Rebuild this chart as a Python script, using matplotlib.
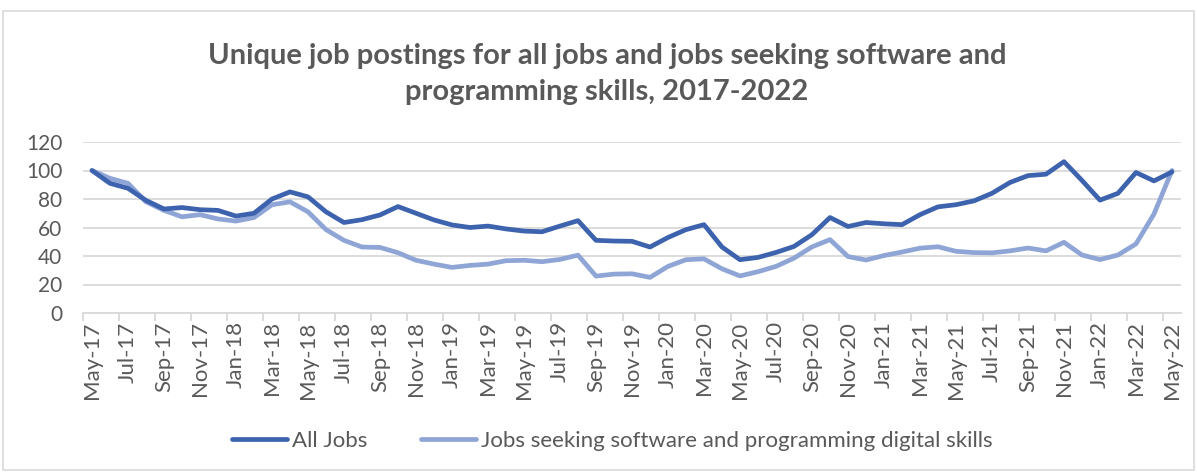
import numpy as np
import matplotlib
matplotlib.use("Agg")
import matplotlib.pyplot as plt
from matplotlib.patches import Rectangle

month_names = ["Jan", "Feb", "Mar", "Apr", "May", "Jun",
               "Jul", "Aug", "Sep", "Oct", "Nov", "Dec"]

# Monthly categories, May 2017 .. May 2022
categories = []
for k in range(61):
    m = (4 + k) % 12
    y = 17 + (4 + k) // 12
    categories.append(f"{month_names[m]}-{y:02d}")

all_jobs = [100, 91, 87.5, 79, 73, 74, 72.5, 72, 68, 70,
            80, 85, 81.5, 71, 63.5, 65.5, 68.8, 74.7, 70, 65.3,
            61.8, 60, 61, 59, 57.5, 57, 61, 64.8, 51, 50.5,
            50.3, 46.3, 53, 58.5, 62, 46.3, 37.4, 39, 42.5, 46.7,
            55, 67, 60.7, 63.5, 62.6, 62, 69, 74.5, 76, 78.7,
            84, 91.6, 96.4, 97.4, 106.2, 93, 79.2, 84, 98.6, 92.7,
            99]

software_jobs = [100, 94.5, 91, 78, 72, 67.5, 69, 66, 64.5, 67,
                 76, 78, 71, 58.5, 51, 46.3, 46, 42.3, 37, 34.3,
                 32, 33.4, 34.3, 36.7, 37, 36, 37.6, 40.6, 25.9, 27.3,
                 27.5, 25, 32.7, 37.4, 38, 31, 26, 29, 32.7, 38.5,
                 46.4, 51.5, 39.6, 37.2, 40.3, 42.8, 45.5, 46.5, 43.3, 42.4,
                 42.2, 43.6, 45.6, 43.6, 49.6, 40.7, 37.5, 40.7, 48.5, 69.5,
                 100]

title_text = ("Unique job postings for all jobs and jobs seeking software and\n"
              "programming skills, 2017-2022")
series_labels = ["All Jobs",
                 "Jobs seeking software and programming digital skills"]

DARK = "#3d63ae"
LIGHT = "#8ea5d6"
TEXT = "#595959"
GRID = "#d9d9d9"
FONT = ["Lato", "DejaVu Sans"]

plt.rcParams["font.family"] = FONT

W, H = 1197, 472
fig = plt.figure(figsize=(W / 100, H / 100), dpi=100)

# light frame around the chart area
fig.patches.append(Rectangle((3 / W, 2 / H), 1191 / W, 459 / H,
                             transform=fig.transFigure, fill=False,
                             edgecolor="#d9d9d9", linewidth=1.2))

ax = fig.add_axes([83 / W, 1 - 313 / H, (1181 - 83) / W, (313 - 142) / H])

x = np.arange(len(categories))
ax.plot(x, software_jobs, color=LIGHT, lw=3.4, solid_capstyle="round",
        solid_joinstyle="round", label=series_labels[1], zorder=3)
ax.plot(x, all_jobs, color=DARK, lw=3.4, solid_capstyle="round",
        solid_joinstyle="round", label=series_labels[0], zorder=4)

ax.set_xlim(-0.5, len(categories) - 0.5)
ax.set_ylim(0, 120)
ax.set_yticks(np.arange(0, 121, 20))
ax.yaxis.grid(True, color=GRID, lw=1.3)
ax.set_axisbelow(True)
for side in ["left", "right", "top"]:
    ax.spines[side].set_visible(False)
ax.spines["bottom"].set_color(GRID)
ax.spines["bottom"].set_linewidth(1.3)
ax.tick_params(axis="y", length=0, pad=15, labelsize=15, labelcolor=TEXT)

# tick marks on category boundaries, labels on every other month
ax.set_xticks(np.arange(-0.5, len(categories), 2))
ax.set_xticklabels([])
ax.tick_params(axis="x", which="major", length=6, width=1.3, color=GRID)
ax.set_xticks(x[::2], minor=True)
ax.set_xticklabels(categories[::2], minor=True, rotation=90)
ax.tick_params(axis="x", which="minor", length=0, pad=6, labelsize=16,
               labelcolor=TEXT)

fig.text(607 / W, 1 - 74 / H, title_text, ha="center", va="center",
         fontsize=21, fontweight="bold", color=TEXT, linespacing=1.5)

handles, labels = ax.get_legend_handles_labels()
leg = fig.legend(handles[::-1], labels[::-1], loc="center",
                 bbox_to_anchor=(612 / W, 1 - 441 / H), ncol=2, frameon=False,
                 fontsize=16, handlelength=2.5, handletextpad=0.2,
                 columnspacing=2.4)
for t in leg.get_texts():
    t.set_color(TEXT)

fig.savefig("out.png", dpi=100)
